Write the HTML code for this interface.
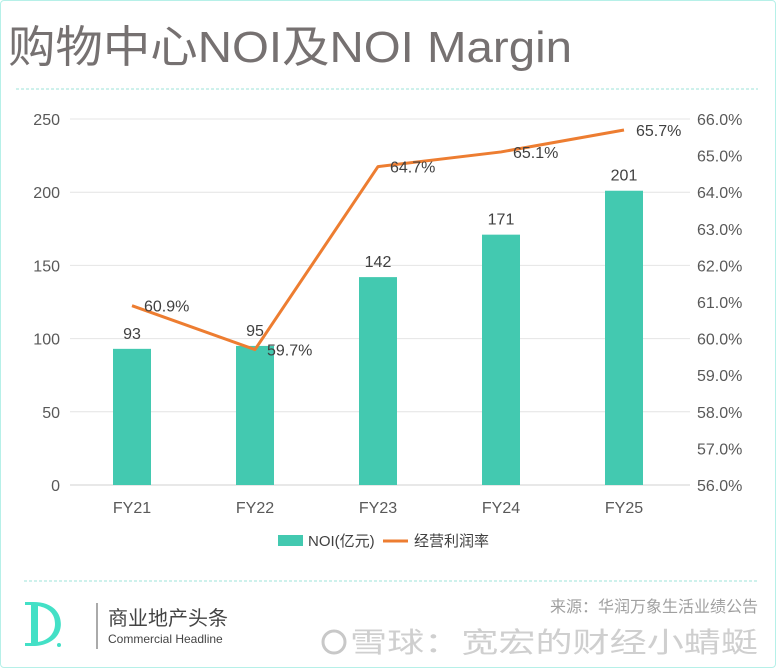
<!DOCTYPE html>
<html><head><meta charset="utf-8">
<style>
body{margin:0;background:#fff;}
#wrap{position:relative;width:774px;height:666px;border:1px solid #b6f0e8;border-radius:4px;overflow:hidden;font-family:"Liberation Sans","Noto Sans CJK SC",sans-serif;}
</style></head><body>
<div id="wrap">
<svg width="776" height="668" style="position:absolute;left:-1px;top:-1px" id="svg">
<text x="8" y="62" font-size="44" fill="#767171" textLength="564" lengthAdjust="spacingAndGlyphs" font-family="Liberation Sans, Noto Sans CJK SC, sans-serif">购物中心NOI及NOI Margin</text>
<line x1="16" y1="89" x2="758" y2="89" stroke="#9ee3d8" stroke-dasharray="3,2"/>
<g id="grid"></g><g id="bars"></g><g id="line"></g><g id="labels"></g>
<g>
<rect x="278" y="535" width="25" height="11" fill="#43C9B0"/>
<text x="308" y="546" font-size="15" fill="#404040">NOI(亿元)</text>
<line x1="383" y1="541" x2="408" y2="541" stroke="#ED7D31" stroke-width="3"/>
<text x="414" y="546" font-size="15" fill="#404040">经营利润率</text>
</g>
<line x1="24" y1="581" x2="758" y2="581" stroke="#9ee3d8" stroke-dasharray="3,2"/>
<g>
<path d="M25 602 h8 c26 0 30 18 27 28 c-3 10 -14 16 -27 16 h-8 v-3 h6 v-38 h-6z M38 606 v36 c12 -2 17 -10 17 -18 c0 -10 -6 -16 -17 -18z" fill="#43E0C6"/>
<circle cx="59" cy="645" r="2" fill="#43E0C6"/>
</g>
<line x1="97" y1="603" x2="97" y2="649" stroke="#555" stroke-width="1"/>
<text x="108" y="625" font-size="20" fill="#444">商业地产头条</text>
<text x="108" y="643" font-size="12" fill="#444">Commercial Headline</text>
<text x="550" y="612" font-size="16" fill="#a0a0a0" textLength="208" lengthAdjust="spacingAndGlyphs">来源：华润万象生活业绩公告</text>
<circle cx="334" cy="642" r="11" fill="none" stroke="#c8c8c8" stroke-width="3"/>
<text x="350" y="652" font-size="28" fill="#cfcfcf" textLength="408" lengthAdjust="spacingAndGlyphs">雪球：宽宏的财经小蜻蜓</text>
</svg>
</div>
<script>
const categories=["FY21","FY22","FY23","FY24","FY25"];
const noiValues=[93,95,142,171,201];
const marginValues=[60.9,59.7,64.7,65.1,65.7];
const leftTicks=[0,50,100,150,200,250];
const rightTicks=[56,57,58,59,60,61,62,63,64,65,66];
const NS="http://www.w3.org/2000/svg";
const y0=485,y1=119;
function yL(v){return y0-(v-0)/(250-0)*(y0-y1);}
function yR(v){return y0-(v-56)/(66-56)*(y0-y1);}
function xC(i){return 132+i*123;}
function mk(tag,attrs,parent,txt){const e=document.createElementNS(NS,tag);for(const k in attrs)e.setAttribute(k,attrs[k]);if(txt!==undefined)e.textContent=txt;document.getElementById(parent).appendChild(e);return e;}
leftTicks.forEach(t=>{
 const g=mk("line",{x1:70,x2:690,y1:yL(t),y2:yL(t),stroke:t===0?"#d0d0d0":"#e4e4e4"},"grid");
 
 
 const l=mk("text",{x:60,y:yL(t)+6,"font-size":16,fill:"#595959","text-anchor":"end"},"grid",String(t));
 
 
});
rightTicks.forEach(t=>{
 const l=mk("text",{x:697,y:yR(t)+6,"font-size":16,fill:"#595959"},"grid",t.toFixed(1)+"%");
 
 
});
categories.forEach((c,i)=>{
 const l=mk("text",{x:xC(i),y:513,"font-size":16,fill:"#595959","text-anchor":"middle"},"grid",c);
 
 
 const b=mk("rect",{x:xC(i)-19,y:yL(noiValues[i]),width:38,height:y0-yL(noiValues[i]),fill:"#43C9B0"},"bars");
 
 
 const v=mk("text",{x:xC(i),y:yL(noiValues[i])-10,"font-size":16,fill:"#404040","text-anchor":"middle"},"labels",String(noiValues[i]));
 
 
 const m=mk("text",{x:xC(i)+12,y:yR(marginValues[i])+6,"font-size":16,fill:"#404040"},"labels",marginValues[i].toFixed(1)+"%");
 
 
});
const pts=marginValues.map((v,i)=>xC(i)+","+yR(v)).join(" ");
const pl=mk("polyline",{points:pts,fill:"none",stroke:"#ED7D31","stroke-width":3,"stroke-linejoin":"round"},"line");


</script>
</body></html>
